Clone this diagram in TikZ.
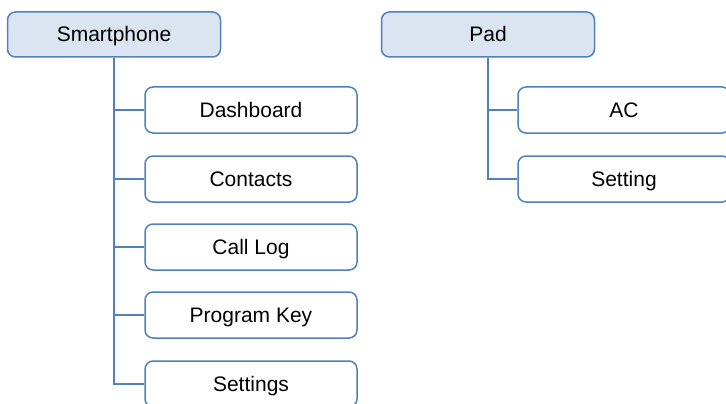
\documentclass[tikz,border=0pt]{standalone}
\usepackage{fontspec}
\setmainfont{Liberation Sans}
\definecolor{boxblue}{HTML}{4F81BD}
\definecolor{boxfill}{HTML}{DBE5F1}

\begin{document}
\begin{tikzpicture}[
  x=1pt, y=-1pt,
  font=\fontsize{21}{25}\selectfont,
  topbox/.style={draw=boxblue, line width=1.5pt, fill=boxfill,
    rounded corners=8pt, minimum width=213pt, minimum height=45pt, inner sep=0pt,
    text height=15pt, text depth=0pt},
  leaf/.style={topbox, fill=white, minimum width=212pt, minimum height=46pt},
  branch/.style={draw=boxblue, line width=1.5pt}
]
\useasboundingbox (0,0) rectangle (726,404);

\node[topbox] (phone) at (114,34.5) {Smartphone};
\node[topbox] (pad) at (488,34.5) {Pad};

\node[leaf] (dash) at (251,110) {Dashboard};
\node[leaf] (contacts) at (251,179) {Contacts};
\node[leaf] (calllog) at (251,247) {Call Log};
\node[leaf] (progkey) at (251,315) {Program Key};
\node[leaf] (settings) at (251,384) {Settings};

\node[leaf] (ac) at (624,110) {AC};
\node[leaf] (setting) at (624,179) {Setting};

\foreach \b in {dash,contacts,calllog,progkey,settings}
  \draw[branch] (phone.south) |- (\b.west);
\foreach \b in {ac,setting}
  \draw[branch] (pad.south) |- (\b.west);
\end{tikzpicture}
\end{document}
